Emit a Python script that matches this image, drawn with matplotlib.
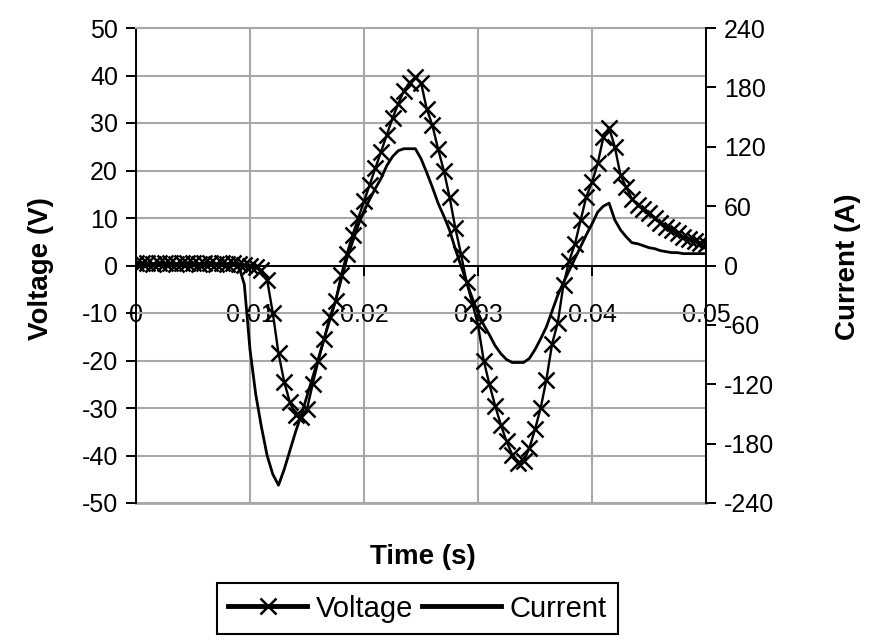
import numpy as np
import matplotlib.pyplot as plt

plt.rcParams["font.family"] = ["Liberation Sans", "DejaVu Sans"]
plt.rcParams["axes.unicode_minus"] = False

# -------------------------
# Data
# -------------------------
time_s = np.round(np.arange(101) * 0.0005, 4)

voltage_v = [
    0.5, 0.6, 0.5, 0.4, 0.6, 0.5, 0.5, 0.4, 0.6, 0.5,
    0.5, 0.4, 0.5, 0.6, 0.4, 0.5, 0.4, 0.5, 0.3, 0.2,
    0.0, -0.4, -1.0, -3.0, -10.0, -18.5, -24.5, -28.8, -31.5, -31.8,
    -30.2, -25.0, -20.0, -15.5, -10.8, -7.5, -2.0, 2.5, 6.5, 10.0,
    13.5, 17.0, 20.5, 24.0, 27.5, 31.0, 34.0, 36.8, 38.5, 39.6,
    38.5, 33.0, 29.5, 24.5, 20.0, 14.5, 8.0, 2.5, -3.5, -8.0,
    -12.5, -20.0, -25.0, -29.5, -33.5, -37.0, -39.8, -41.6, -41.2, -38.5,
    -34.5, -30.0, -24.0, -16.5, -12.0, -4.0, 1.0, 4.5, 9.5, 14.5,
    17.5, 21.5, 27.0, 29.0, 25.0, 19.0, 16.5, 14.0, 12.8, 11.8,
    11.0, 10.0, 9.0, 8.2, 7.5, 6.8, 6.0, 5.6, 5.2, 4.8,
    4.5,
]

current_a = [
    0, 0, 0, 0, 0, 0, 0, 0, 0, 0,
    0, 0, 0, 0, 0, 0, 0, 0, 0, -19,
    -85, -130, -163, -192, -211, -222, -206, -187, -168, -151,
    -132, -113, -94, -74, -55, -36, -14, 7, 24, 41,
    55, 67, 78, 88, 101, 110, 116, 118, 118, 118,
    108, 94, 79, 63, 50, 36, 17, 0, -17, -33,
    -48, -60, -70, -81, -89, -95, -98, -98, -98, -94,
    -85, -74, -62, -46, -30, -17, -5, 7, 19, 31,
    42, 54, 60, 63, 46, 36, 29, 23, 22, 20,
    18, 17, 15, 14, 13, 13, 12, 12, 12, 12,
    12,
]

x_ticks = [0, 0.01, 0.02, 0.03, 0.04, 0.05]
x_tick_labels = ["0", "0.01", "0.02", "0.03", "0.04", "0.05"]
v_ticks = list(range(-50, 51, 10))
a_ticks = list(range(-240, 241, 60))

# -------------------------
# Figure
# -------------------------
fig = plt.figure(figsize=(8.75, 6.4), dpi=100)
ax = fig.add_axes([136 / 875, 1 - 503 / 640, (706 - 136) / 875, (503 - 28) / 640])
ax2 = ax.twinx()

grid_col = "#a8a8a8"

ax.set_xlim(0, 0.05)
ax.set_ylim(-50, 50)
ax2.set_ylim(-240, 240)

ax.set_xticks(x_ticks)
ax.set_xticklabels(x_tick_labels)
ax.set_yticks(v_ticks)
ax2.set_yticks(a_ticks)

ax.grid(True, color=grid_col, linewidth=1.5)
ax.set_axisbelow(True)
ax.axhline(-50, color=grid_col, linewidth=2, clip_on=False)

# x axis crosses at y = 0
ax.spines["bottom"].set_position(("data", 0))
ax.spines["bottom"].set_color("black")
ax.spines["bottom"].set_linewidth(1.4)
ax.spines["top"].set_color(grid_col)
ax.spines["top"].set_linewidth(1.5)
ax.spines["right"].set_visible(False)
ax.spines["left"].set_color("black")
ax.spines["left"].set_linewidth(1.4)
for side in ["left", "top", "bottom"]:
    ax2.spines[side].set_visible(False)
ax2.spines["right"].set_color("black")
ax2.spines["right"].set_linewidth(1.4)

ax.tick_params(axis="x", direction="out", length=7, width=1.4, pad=20, labelsize=18)
ax.tick_params(axis="y", direction="out", length=7, width=1.4, pad=6, labelsize=18)
ax2.tick_params(axis="y", direction="out", length=7, width=1.4, pad=6, labelsize=18)

v_line, = ax.plot(time_s, voltage_v, color="black", linewidth=1.7,
                  marker="x", markersize=11, markeredgewidth=1.8, label="Voltage")
i_line, = ax2.plot(time_s, current_a, color="black", linewidth=2.0, label="Current")

fig.text(423 / 875, 1 - 557 / 640, "Time (s)", ha="center", va="center",
         fontsize=20, fontweight="bold")
fig.text(41 / 875, 1 - 269 / 640, "Voltage (V)", ha="center", va="center",
         rotation=90, fontsize=20, fontweight="bold")
fig.text(848 / 875, 1 - 267 / 640, "Current (A)", ha="center", va="center",
         rotation=90, fontsize=20, fontweight="bold")

leg = fig.legend([v_line, i_line], ["Voltage", "Current"], loc="upper center",
                 bbox_to_anchor=(0.477, 0.089), ncol=2, fontsize=21,
                 fancybox=False, edgecolor="black", framealpha=1,
                 handlelength=2.7, handletextpad=0.3, columnspacing=0.3,
                 borderpad=0.4, borderaxespad=0)
leg.get_frame().set_linewidth(1.5)
for h in leg.legend_handles:
    h.set_linewidth(3.5)

fig.savefig("out.png", dpi=100)
